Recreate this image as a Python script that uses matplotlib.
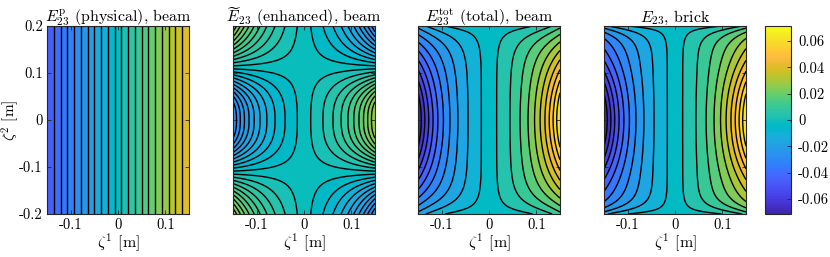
import numpy as np
import matplotlib
matplotlib.use("Agg")
import matplotlib.pyplot as plt
from matplotlib.colors import LinearSegmentedColormap, Normalize

# ---------------- data ----------------
x_lim = [-0.15, 0.15]
y_lim = [-0.2, 0.2]
x_ticks = [-0.1, 0.0, 0.1]
x_ticklabels = ["-0.1", "0", "0.1"]
y_ticks = [-0.2, -0.1, 0.0, 0.1, 0.2]
y_ticklabels = ["-0.2", "-0.1", "0", "0.1", "0.2"]
cbar_ticks = [-0.06, -0.04, -0.02, 0.0, 0.02, 0.04, 0.06]
cbar_ticklabels = ["-0.06", "-0.04", "-0.02", "0", "0.02", "0.04", "0.06"]
clim = [-0.0715, 0.0715]
n_levels = 20

titles = [r"$E_{23}^{\mathrm{p}}$ (physical), beam",
          r"$\widetilde{E}_{23}$ (enhanced), beam",
          r"$E_{23}^{\mathrm{tot}}$ (total), beam",
          r"$E_{23}$, brick"]

# field parameters
phys_amp = 0.045                      # physical: linear in zeta1
enh_amp = 0.030                       # enhanced: amplitude
enh_cubic = 1.0                       #   cubic share in zeta1
enh_s0, enh_n = 0.56, 2.6             #   zero crossing of y-profile, sharpness
tot_amp = 0.0705                      # total: amplitude
tot_cubic = 1.3                       #   cubic share
tot_p1 = 6.0                          #   flat y-profile of linear part 1 - s^p
tot_c = [-2.12, 1.48]                 #   y-profile of cubic part 1 + c1 s^2 + c2 s^4
brick_amp = 0.0715                    # brick
brick_cubic = 1.3
brick_p1 = 10.0
brick_c = [-2.3, 1.6]

# ---------------- parula colormap ----------------
parula_data = [
[0.2422,0.1504,0.6603],[0.2504,0.1650,0.7076],[0.2578,0.1818,0.7511],[0.2647,0.1978,0.7952],
[0.2706,0.2147,0.8364],[0.2751,0.2342,0.8710],[0.2783,0.2559,0.8991],[0.2803,0.2782,0.9221],
[0.2813,0.3006,0.9414],[0.2810,0.3228,0.9579],[0.2795,0.3447,0.9717],[0.2760,0.3667,0.9829],
[0.2699,0.3892,0.9906],[0.2602,0.4123,0.9952],[0.2440,0.4358,0.9988],[0.2206,0.4603,0.9973],
[0.1963,0.4847,0.9892],[0.1834,0.5074,0.9798],[0.1786,0.5289,0.9682],[0.1764,0.5499,0.9520],
[0.1687,0.5703,0.9359],[0.1540,0.5902,0.9218],[0.1460,0.6091,0.9079],[0.1380,0.6276,0.8973],
[0.1248,0.6459,0.8883],[0.1113,0.6635,0.8763],[0.0952,0.6798,0.8598],[0.0689,0.6948,0.8394],
[0.0297,0.7082,0.8163],[0.0036,0.7203,0.7917],[0.0067,0.7312,0.7660],[0.0433,0.7411,0.7394],
[0.0964,0.7500,0.7120],[0.1408,0.7584,0.6842],[0.1717,0.7670,0.6554],[0.1938,0.7758,0.6251],
[0.2161,0.7843,0.5923],[0.2470,0.7918,0.5567],[0.2906,0.7973,0.5188],[0.3406,0.8008,0.4789],
[0.3909,0.8029,0.4354],[0.4456,0.8024,0.3909],[0.5044,0.7993,0.3480],[0.5616,0.7942,0.3045],
[0.6174,0.7876,0.2612],[0.6720,0.7793,0.2227],[0.7242,0.7698,0.1910],[0.7738,0.7598,0.1646],
[0.8203,0.7498,0.1535],[0.8634,0.7406,0.1596],[0.9035,0.7330,0.1774],[0.9393,0.7288,0.2100],
[0.9728,0.7298,0.2394],[0.9956,0.7434,0.2371],[0.9970,0.7659,0.2199],[0.9952,0.7893,0.2028],
[0.9892,0.8136,0.1885],[0.9786,0.8386,0.1766],[0.9676,0.8639,0.1643],[0.9610,0.8890,0.1537],
[0.9597,0.9135,0.1423],[0.9628,0.9373,0.1265],[0.9691,0.9606,0.1064],[0.9769,0.9839,0.0805]]
parula = LinearSegmentedColormap.from_list("parula", parula_data, N=256)

# ---------------- fields ----------------
xg = np.linspace(x_lim[0], x_lim[1], 241)
yg = np.linspace(y_lim[0], y_lim[1], 321)
X, Y = np.meshgrid(xg, yg)
U = X / x_lim[1]
S = np.abs(Y / y_lim[1])

E_phys = phys_amp * U

w = 1.0 / enh_s0**enh_n - 2.0
g_enh = (1 - (S / enh_s0)**enh_n) / (1 + w * S**enh_n)
E_enh = enh_amp * (U + enh_cubic * U**3) / (1 + enh_cubic) * g_enh


def beam_like(amp, cubic, p1, c):
    g1 = 1 - S**p1
    g3 = 1 + c[0] * S**2 + c[1] * S**4
    return amp * (U * g1 + cubic * U**3 * g3) / (1 + cubic)


E_tot = beam_like(tot_amp, tot_cubic, tot_p1, tot_c)
E_brick = beam_like(brick_amp, brick_cubic, brick_p1, brick_c)
fields = [E_phys, E_enh, E_tot, E_brick]

# ---------------- figure ----------------
plt.rcParams["font.family"] = "cmr10"
plt.rcParams["mathtext.fontset"] = "cm"
plt.rcParams["axes.formatter.use_mathtext"] = True
plt.rcParams["contour.negative_linestyle"] = "solid"

W, H = 830, 257
fig = plt.figure(figsize=(W / 100, H / 100), dpi=100)
lefts = [47, 233, 418, 604]
ax_w, ax_top, ax_bot = 142, 26, 214
norm = Normalize(vmin=clim[0], vmax=clim[1])
edge_col = (0.15, 0.15, 0.15)

for i, (Z, title) in enumerate(zip(fields, titles)):
    ax = fig.add_axes([lefts[i] / W, 1 - ax_bot / H, ax_w / W, (ax_bot - ax_top) / H])
    zmin, zmax = Z.min(), Z.max()
    lv = np.linspace(zmin, zmax, n_levels + 2)
    cols = [parula(norm(v)) for v in lv[:-1]]
    ax.contourf(X, Y, Z, levels=lv, colors=cols, antialiased=True)
    ax.contour(X, Y, Z, levels=lv[1:-1], colors="k", linewidths=1.0, linestyles="solid")
    ax.set_xlim(x_lim)
    ax.set_ylim(y_lim)
    ax.set_xticks(x_ticks)
    ax.set_xticklabels(x_ticklabels)
    ax.set_yticks(y_ticks)
    if i == 0:
        ax.set_yticklabels(y_ticklabels)
        ax.set_ylabel(r"$\zeta^2$ [m]", fontsize=11)
        ax.yaxis.set_label_coords(-0.185, 0.5)
    else:
        ax.set_yticklabels([])
    ax.set_xlabel(r"$\zeta^1$ [m]", fontsize=11.5, labelpad=0)
    ax.set_title(title, fontsize=11.5, pad=3)
    ax.tick_params(direction="in", length=3, width=0.6, colors=edge_col,
                   top=True, right=True, labelsize=10.5, pad=3, labelcolor="k")
    for sp in ax.spines.values():
        sp.set_color(edge_col)
        sp.set_linewidth(0.8)

cax = fig.add_axes([765 / W, 1 - ax_bot / H, 26 / W, (ax_bot - ax_top) / H])
sm = plt.cm.ScalarMappable(norm=norm, cmap=parula)
cb = fig.colorbar(sm, cax=cax)
cb.set_ticks(cbar_ticks)
cb.set_ticklabels(cbar_ticklabels)
cax.tick_params(direction="in", length=3, width=0.6, colors=edge_col,
                labelsize=10.5, labelcolor="k", pad=5)
cb.outline.set_edgecolor(edge_col)
cb.outline.set_linewidth(0.8)

fig.savefig("out.png", dpi=100)
